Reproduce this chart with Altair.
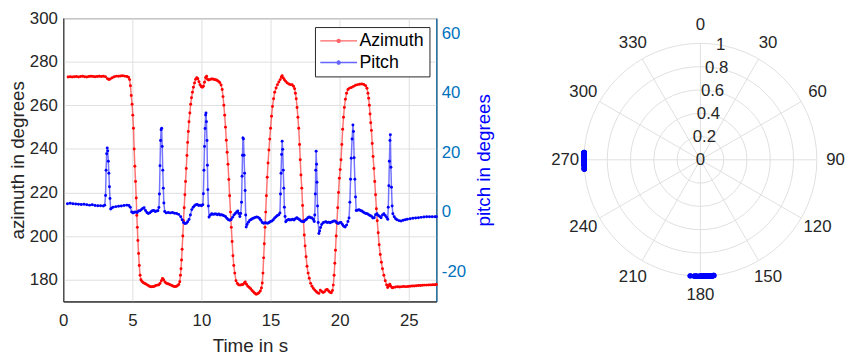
import altair as alt
import pandas as pd

# ---- data (time in s, value in degrees) ----
azimuth_readings = [
    (0.35, 273.0), (0.5, 273.1), (0.65, 273.0), (0.8, 273.1), (0.95, 273.2), (1.1, 273.0), (1.25, 273.2),
    (1.4, 273.3), (1.55, 273.1), (1.7, 273.0), (1.85, 273.2), (2.0, 273.3), (2.15, 273.2), (2.3, 273.1),
    (2.45, 273.2), (2.6, 273.3), (2.75, 273.2), (2.9, 273.3), (3.05, 273.1), (3.2, 272.2), (3.3, 271.8),
    (3.4, 272.1), (3.55, 272.7), (3.7, 273.1), (3.85, 273.4), (4.0, 273.3), (4.15, 273.5), (4.3, 273.6),
    (4.45, 273.4), (4.6, 273.2), (4.72, 272.9), (4.8, 271.8), (4.86, 269.0), (4.92, 264.5), (4.98, 260.5),
    (5.03, 255.5), (5.08, 249.5), (5.13, 240.0), (5.18, 232.0), (5.23, 225.0), (5.28, 217.5), (5.32, 209.5),
    (5.36, 204.0), (5.4, 198.0), (5.45, 192.0), (5.5, 186.5), (5.56, 182.0), (5.62, 180.0), (5.7, 179.2),
    (5.8, 178.6), (5.9, 178.2), (6.0, 177.9), (6.1, 177.5), (6.2, 177.1), (6.3, 176.8), (6.4, 176.7),
    (6.5, 176.8), (6.6, 177.0), (6.7, 177.3), (6.8, 177.5), (6.9, 177.6), (7.0, 178.2), (7.1, 179.5),
    (7.18, 180.5), (7.26, 180.0), (7.36, 178.9), (7.46, 178.4), (7.56, 178.1), (7.66, 177.9), (7.76, 177.6),
    (7.86, 177.3), (7.96, 177.0), (8.06, 176.9), (8.16, 176.9), (8.26, 177.2), (8.36, 177.8), (8.43, 179.0),
    (8.48, 182.0), (8.52, 185.0), (8.56, 189.0), (8.6, 194.0), (8.65, 200.0), (8.7, 207.0), (8.75, 213.0),
    (8.8, 219.0), (8.85, 225.0), (8.9, 231.0), (8.95, 237.0), (9.0, 243.0), (9.05, 248.0), (9.1, 252.5),
    (9.16, 256.5), (9.22, 260.5), (9.28, 263.5), (9.35, 266.0), (9.42, 268.3), (9.5, 270.3), (9.58, 272.0),
    (9.66, 272.7), (9.74, 272.2), (9.82, 270.8), (9.9, 269.5), (9.98, 268.6), (10.06, 268.3), (10.14, 268.8),
    (10.22, 270.6), (10.3, 272.8), (10.37, 273.4), (10.44, 272.0), (10.52, 271.6), (10.62, 271.8),
    (10.72, 272.1), (10.82, 272.1), (10.92, 271.9), (11.02, 271.7), (11.12, 271.5), (11.22, 271.1),
    (11.32, 270.5), (11.42, 269.3), (11.5, 267.3), (11.56, 264.0), (11.62, 260.0), (11.68, 255.5),
    (11.74, 250.0), (11.8, 244.0), (11.86, 238.5), (11.92, 233.0), (11.98, 226.0), (12.04, 218.5),
    (12.1, 211.0), (12.16, 204.0), (12.22, 197.5), (12.28, 191.0), (12.34, 186.5), (12.41, 183.0),
    (12.5, 179.5), (12.6, 178.2), (12.7, 177.6), (12.8, 177.5), (12.9, 177.7), (13.0, 177.8), (13.1, 178.5),
    (13.17, 178.9), (13.26, 177.9), (13.36, 177.0), (13.46, 176.4), (13.56, 175.8), (13.66, 175.0),
    (13.76, 174.4), (13.86, 173.8), (13.96, 173.3), (14.06, 173.5), (14.16, 174.0), (14.26, 174.8),
    (14.34, 176.2), (14.4, 178.5), (14.45, 183.0), (14.5, 190.0), (14.55, 196.5), (14.6, 204.0),
    (14.65, 211.0), (14.7, 218.5), (14.76, 227.0), (14.82, 233.5), (14.88, 239.5), (14.94, 244.5),
    (15.0, 249.5), (15.07, 255.0), (15.14, 259.5), (15.22, 263.0), (15.3, 266.0), (15.4, 268.0),
    (15.5, 269.5), (15.6, 270.7), (15.7, 271.8), (15.78, 273.0), (15.84, 273.6), (15.92, 272.6),
    (16.0, 271.7), (16.1, 271.0), (16.2, 270.3), (16.32, 269.8), (16.44, 269.5), (16.56, 269.4),
    (16.66, 268.8), (16.74, 267.6), (16.8, 265.5), (16.86, 263.0), (16.92, 259.0), (16.98, 254.5),
    (17.04, 249.5), (17.1, 242.0), (17.15, 235.0), (17.2, 228.0), (17.26, 222.0), (17.32, 214.0),
    (17.38, 207.0), (17.44, 200.5), (17.5, 195.5), (17.57, 190.5), (17.64, 186.2), (17.72, 183.0),
    (17.8, 180.6), (17.9, 178.3), (18.0, 177.0), (18.1, 176.0), (18.2, 175.2), (18.3, 174.6), (18.4, 174.0),
    (18.5, 173.7), (18.6, 175.2), (18.7, 174.6), (18.8, 174.1), (18.9, 174.4), (19.0, 175.3), (19.1, 175.5),
    (19.2, 174.8), (19.3, 174.2), (19.4, 174.0), (19.48, 175.0), (19.54, 177.5), (19.6, 182.0),
    (19.65, 187.5), (19.7, 193.5), (19.75, 200.0), (19.8, 206.0), (19.86, 213.0), (19.92, 220.0),
    (19.98, 226.5), (20.04, 230.5), (20.1, 235.0), (20.16, 242.0), (20.22, 249.0), (20.28, 254.5),
    (20.34, 259.0), (20.42, 262.8), (20.5, 265.5), (20.6, 267.3), (20.72, 267.9), (20.85, 268.2),
    (21.0, 268.7), (21.15, 269.2), (21.3, 269.5), (21.45, 269.7), (21.6, 269.8), (21.75, 269.6),
    (21.88, 269.0), (21.98, 267.8), (22.05, 265.5), (22.1, 263.3), (22.15, 260.0), (22.2, 256.0),
    (22.25, 252.0), (22.3, 248.5), (22.36, 242.5), (22.42, 236.5), (22.48, 231.0), (22.54, 225.0),
    (22.6, 219.0), (22.66, 212.5), (22.72, 207.0), (22.79, 201.5), (22.86, 196.0), (22.94, 191.5),
    (23.02, 188.0), (23.1, 185.0), (23.2, 182.0), (23.3, 179.5), (23.4, 177.6), (23.48, 176.4),
    (23.56, 177.2), (23.63, 177.9), (23.7, 177.0), (23.8, 176.3), (23.9, 176.4), (24.05, 176.6),
    (24.2, 176.7), (24.35, 176.6), (24.5, 176.8), (24.65, 176.9), (24.8, 176.8), (24.95, 176.9),
    (25.1, 177.0), (25.25, 177.1), (25.4, 177.1), (25.55, 177.2), (25.7, 177.3), (25.85, 177.3),
    (26.0, 177.4), (26.15, 177.5), (26.3, 177.5), (26.45, 177.6), (26.6, 177.6), (26.75, 177.7),
    (26.9, 177.7), (27.0, 177.8),
]

pitch_readings = [
    (0.3, 2.8), (0.5, 2.9), (0.7, 2.8), (0.9, 2.7), (1.1, 2.6), (1.3, 2.5), (1.5, 2.6), (1.7, 2.4),
    (1.9, 2.3), (2.1, 2.4), (2.3, 2.2), (2.5, 2.1), (2.7, 2.1), (2.9, 2.0), (3.0, 2.3), (3.06, 5.5),
    (3.1, 14.0), (3.14, 19.5), (3.18, 21.5), (3.22, 20.5), (3.26, 17.0), (3.3, 13.0), (3.34, 8.5),
    (3.38, 4.5), (3.43, 1.0), (3.5, 1.3), (3.6, 1.6), (3.8, 1.8), (4.0, 1.9), (4.2, 2.0), (4.4, 2.2),
    (4.6, 2.3), (4.75, 2.2), (4.85, 1.6), (4.95, 0.0), (5.05, -0.3), (5.15, -0.1), (5.25, 0.0),
    (5.35, -0.2), (5.45, 0.3), (5.55, 0.4), (5.65, 0.8), (5.75, 1.2), (5.85, 1.4), (5.95, 0.5),
    (6.05, -0.2), (6.15, -0.5), (6.25, -0.3), (6.35, 0.1), (6.45, 0.4), (6.55, 0.5), (6.65, 0.2),
    (6.75, 0.3), (6.85, 0.4), (6.92, 1.5), (6.96, 6.0), (7.0, 15.5), (7.04, 24.0), (7.08, 27.6),
    (7.12, 28.1), (7.16, 22.0), (7.2, 14.0), (7.24, 8.0), (7.28, 3.0), (7.34, 0.2), (7.45, -0.3),
    (7.6, -0.2), (7.75, -0.3), (7.9, -0.2), (8.05, -0.4), (8.2, -0.5), (8.35, -0.8), (8.5, -1.6),
    (8.6, -2.6), (8.7, -3.5), (8.8, -3.9), (8.9, -3.8), (9.0, -3.3), (9.1, -2.5), (9.2, -1.0),
    (9.3, 0.8), (9.4, 1.6), (9.5, 2.1), (9.6, 2.4), (9.7, 2.5), (9.8, 2.2), (9.9, 2.3), (10.0, 2.1),
    (10.1, 2.4), (10.14, 6.1), (10.18, 14.0), (10.22, 22.0), (10.26, 28.0), (10.3, 32.5), (10.33, 33.2),
    (10.36, 30.3), (10.4, 24.0), (10.43, 15.7), (10.46, 7.5), (10.5, 2.0), (10.55, -1.7), (10.65, -1.0),
    (10.75, -0.6), (10.85, -0.8), (10.95, -0.7), (11.05, -0.7), (11.15, -0.9), (11.25, -0.7),
    (11.35, -1.0), (11.45, -0.9), (11.55, -1.1), (11.65, -1.3), (11.75, -1.6), (11.85, -2.2),
    (11.95, -2.6), (12.05, -2.8), (12.15, -2.5), (12.25, -1.8), (12.35, -1.0), (12.45, -0.5),
    (12.55, 0.0), (12.63, 0.3), (12.7, -0.5), (12.78, -1.5), (12.84, -0.5), (12.9, 3.3), (12.94, 12.0),
    (12.97, 19.0), (13.0, 24.8), (13.04, 24.5), (13.08, 19.0), (13.12, 13.0), (13.16, 7.2), (13.2, -1.0),
    (13.24, -5.0), (13.3, -4.2), (13.4, -3.4), (13.5, -2.8), (13.6, -2.5), (13.7, -2.2), (13.8, -2.0),
    (13.9, -1.8), (14.0, -1.7), (14.1, -1.8), (14.2, -2.2), (14.3, -2.8), (14.4, -3.5), (14.5, -3.8),
    (14.6, -3.6), (14.7, -3.7), (14.8, -3.8), (14.9, -3.5), (15.0, -3.2), (15.1, -3.0), (15.2, -2.6),
    (15.3, -2.0), (15.4, -1.6), (15.5, -1.2), (15.6, -0.9), (15.68, -0.3), (15.72, 6.0), (15.76, 13.0),
    (15.8, 19.3), (15.84, 23.7), (15.88, 21.0), (15.92, 14.0), (15.96, 8.0), (16.0, 1.6), (16.05, -1.5),
    (16.1, -3.3), (16.2, -2.8), (16.3, -2.5), (16.4, -2.7), (16.5, -2.6), (16.6, -2.4), (16.7, -2.7),
    (16.8, -2.3), (16.9, -1.9), (17.0, -2.3), (17.1, -2.6), (17.2, -3.0), (17.3, -3.2), (17.4, -3.3),
    (17.5, -2.8), (17.6, -2.4), (17.7, -1.9), (17.8, -1.7), (17.9, -1.9), (18.0, -2.0), (18.1, -2.5),
    (18.16, -3.2), (18.2, -1.0), (18.24, 6.0), (18.27, 14.0), (18.3, 20.4), (18.33, 16.0), (18.36, 10.0),
    (18.4, 2.0), (18.45, -3.5), (18.5, -7.2), (18.55, -6.4), (18.62, -5.2), (18.7, -4.2), (18.8, -3.6),
    (18.9, -3.4), (19.0, -3.3), (19.1, -3.5), (19.2, -3.4), (19.3, -3.6), (19.4, -3.4), (19.5, -3.2),
    (19.6, -3.0), (19.7, -3.1), (19.8, -3.6), (19.9, -3.9), (20.0, -3.6), (20.1, -3.5), (20.2, -4.2),
    (20.3, -4.8), (20.4, -5.0), (20.5, -4.4), (20.6, -3.2), (20.68, -2.0), (20.74, 3.3), (20.79, 11.0),
    (20.84, 18.0), (20.9, 24.5), (20.96, 29.2), (21.0, 27.0), (21.05, 18.2), (21.1, 11.0), (21.15, 5.0),
    (21.2, 0.5), (21.3, 0.6), (21.4, 0.8), (21.5, 0.5), (21.6, 0.3), (21.7, 0.0), (21.8, -0.3),
    (21.9, -0.5), (22.0, -0.6), (22.1, -0.9), (22.2, -1.2), (22.3, -1.4), (22.4, -2.0), (22.5, -1.9),
    (22.6, -0.9), (22.7, -0.6), (22.8, -1.2), (22.9, -1.5), (23.0, -1.9), (23.1, -1.0), (23.2, -0.6),
    (23.3, -1.2), (23.4, -1.8), (23.48, -2.4), (23.52, 1.6), (23.56, 8.8), (23.6, 17.0), (23.64, 24.0),
    (23.67, 25.9), (23.71, 15.0), (23.75, 8.3), (23.8, 2.0), (23.85, -0.6), (23.95, -1.6), (24.05, -2.3),
    (24.15, -2.6), (24.3, -2.9), (24.45, -3.0), (24.6, -2.8), (24.75, -2.6), (24.9, -2.4), (25.1, -2.3),
    (25.3, -2.1), (25.5, -2.0), (25.7, -1.9), (25.9, -1.8), (26.1, -1.7), (26.3, -1.6), (26.5, -1.6),
    (26.7, -1.6), (26.9, -1.6), (27.0, -1.6),
]

series_names = ["Azimuth", "Pitch"]
series_colors = ["#FF0000", "#0000FF"]
time_ticks = [0, 5, 10, 15, 20, 25]
azimuth_ticks = [180, 200, 220, 240, 260, 280, 300]
pitch_ticks = [-20, 0, 20, 40, 60]
theta_ticks = [0, 30, 60, 90, 120, 150, 180, 210, 240, 270, 300, 330]
r_ticks = [0, 0.2, 0.4, 0.6, 0.8, 1.0]
r_tick_labels = ["0", "0.2", "0.4", "0.6", "0.8", "1"]

# ---- styles ----
FONT = "Liberation Sans"
TXT = "#262626"
GRID = "#DFDFDF"
PW, PH = 378, 287          # left plot area
R = 118                    # polar radius in px
QW, QH = 280, 287          # polar panel
LABEL_R = 137 / R          # theta label radius (data units)
R_LABEL_ANGLE = 10         # radial labels drawn along 10 deg

az_df = pd.DataFrame(azimuth_readings, columns=["t", "v"]).assign(series="Azimuth")
pitch_df = pd.DataFrame(pitch_readings, columns=["t", "v"]).assign(series="Pitch")

color_scale = alt.Scale(domain=series_names, range=series_colors)
legend = alt.Legend(
    title=None, orient="none", legendX=255, legendY=9,
    fillColor="white", strokeColor=TXT, padding=5, rowPadding=4,
    labelFont=FONT, labelFontSize=18, labelColor="#000000", labelOffset=12,
    symbolType="M-3.1,0H3.1M-0.25,0A0.25,0.25,0,1,0,0.25,0A0.25,0.25,0,1,0,-0.25,0Z",
    symbolSize=144, symbolStrokeWidth=1.5, symbolOffset=10, symbolOpacity=0.6,
)

x_enc = alt.X(
    "t:Q", scale=alt.Scale(domain=[0, 27], nice=False, zero=False),
    axis=alt.Axis(values=time_ticks, title="Time in s", grid=True, ticks=False,
                  labelFlush=False, labelPadding=11, titlePadding=9, domainColor=TXT),
)

az_layer = alt.Chart(az_df).mark_line(
    strokeWidth=1.5, strokeOpacity=0.55,
    point=alt.OverlayMarkDef(filled=True, size=9, opacity=1),
).encode(
    x=x_enc,
    y=alt.Y("v:Q", scale=alt.Scale(domain=[170, 300], nice=False, zero=False),
            axis=alt.Axis(values=azimuth_ticks, title="azimuth in degrees", orient="left",
                          grid=True, ticks=False, labelPadding=6, titlePadding=2, domainColor=TXT)),
    color=alt.Color("series:N", scale=color_scale, legend=legend),
    order="t:Q",
)

pitch_layer = alt.Chart(pitch_df).mark_line(
    strokeWidth=1.5, strokeOpacity=0.55,
    point=alt.OverlayMarkDef(filled=True, size=9, opacity=1),
).encode(
    x=x_enc,
    y=alt.Y("v:Q", scale=alt.Scale(domain=[-30, 65], nice=False, zero=False),
            axis=alt.Axis(values=pitch_ticks, title="pitch in degrees", orient="right",
                          grid=False, ticks=False, labelPadding=5, titlePadding=28,
                          labelExpr="'' + datum.value",
                          labelColor="#0072BD", domainColor="#0072BD", titleColor="#0000FF",
                          titleAngle=270)),
    color=alt.Color("series:N", scale=color_scale, legend=legend),
    order="t:Q",
)

left = alt.layer(az_layer, pitch_layer).resolve_scale(y="independent").properties(
    width=PW, height=PH, view=alt.ViewBackground(stroke=TXT, strokeWidth=1)
)

# ---- polar panel ----
xs = alt.Scale(domain=[-QW / 2 / R, QW / 2 / R], nice=False, zero=False)
ys = alt.Scale(domain=[-QH / 2 / R, QH / 2 / R], nice=False, zero=False)

rings = alt.Chart(pd.DataFrame({"r": r_ticks[1:]})).mark_arc(
    theta=0, theta2=6.2832, fillOpacity=0, stroke=GRID, strokeWidth=1
).encode(
    radius=alt.Radius("r:Q", stack=False,
                      scale=alt.Scale(type="linear", domain=[0, 1], range=[0, R], zero=True))
)

spokes = alt.Chart(pd.DataFrame({"a": theta_ticks})).transform_calculate(
    x0="0", y0="0",
    x1="sin(datum.a*PI/180)", y1="cos(datum.a*PI/180)",
).mark_rule(color=GRID, strokeWidth=1).encode(
    x=alt.X("x0:Q", scale=xs, axis=None), y=alt.Y("y0:Q", scale=ys, axis=None),
    x2="x1:Q", y2="y1:Q",
)

theta_labels = alt.Chart(pd.DataFrame({"a": theta_ticks, "label": [str(a) for a in theta_ticks]})).transform_calculate(
    lx=f"{LABEL_R}*sin(datum.a*PI/180)", ly=f"{LABEL_R}*cos(datum.a*PI/180)",
).mark_text(font=FONT, fontSize=17, color=TXT, align="center", baseline="middle").encode(
    x=alt.X("lx:Q", scale=xs, axis=None), y=alt.Y("ly:Q", scale=ys, axis=None), text="label:N",
)

r_labels = alt.Chart(pd.DataFrame({"r": r_ticks, "label": r_tick_labels})).transform_calculate(
    lx=f"datum.r*sin({R_LABEL_ANGLE}*PI/180)", ly=f"datum.r*cos({R_LABEL_ANGLE}*PI/180)",
).mark_text(font=FONT, fontSize=17, color=TXT, align="center", baseline="middle").encode(
    x=alt.X("lx:Q", scale=xs, axis=None), y=alt.Y("ly:Q", scale=ys, axis=None), text="label:N",
)

polar_points = alt.Chart(az_df).transform_filter(
    "datum.v > 265 || datum.v < 186"
).transform_calculate(
    px="sin(datum.v*PI/180)", py="cos(datum.v*PI/180)",
).mark_point(filled=True, size=30, color="#0000FF", opacity=1).encode(
    x=alt.X("px:Q", scale=xs, axis=None), y=alt.Y("py:Q", scale=ys, axis=None),
)

polar = alt.layer(rings, spokes, theta_labels, r_labels, polar_points).properties(
    width=QW, height=QH, view=alt.ViewBackground(strokeOpacity=0)
)

chart = alt.hconcat(left, polar, spacing=708.5 - QW / 2 - (63 + PW), bounds="flush").properties(
    padding={"left": 0, "top": -2, "right": 0, "bottom": 0}, background="white"
).configure_axis(
    labelFont=FONT, titleFont=FONT, labelFontSize=17, titleFontSize=19,
    labelColor=TXT, titleColor=TXT, titleFontWeight="normal", gridColor=GRID,
)

chart.save("out.html", embed_options={"renderer": "svg", "actions": False})
